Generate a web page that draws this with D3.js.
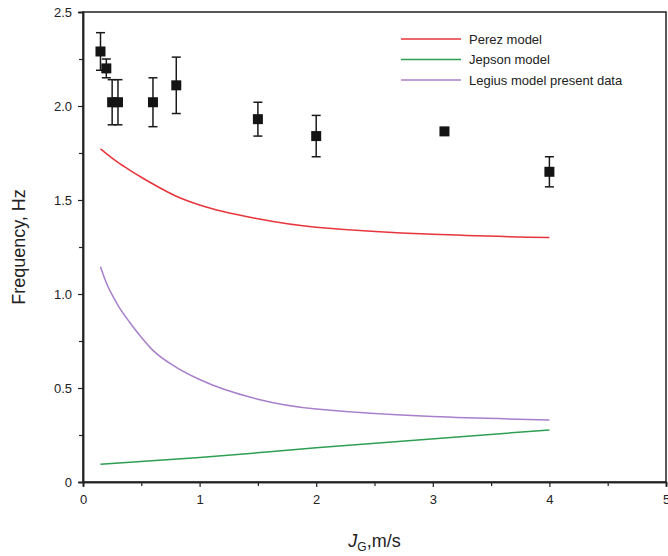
<!DOCTYPE html>
<html>
<head>
<meta charset="utf-8">
<script src="https://cdn.jsdelivr.net/npm/d3@7"></script>
<style>
  body { margin: 0; background: #fff; }
  svg { font-family: "Liberation Sans", Arial, sans-serif; }
</style>
</head>
<body>
<div id="chart"></div>
<script>
// measured points with error bars
const expX = [0.15, 0.2, 0.25, 0.3, 0.6, 0.8, 1.5, 2.0, 3.1, 4.0];
const expY = [2.29, 2.20, 2.02, 2.02, 2.02, 2.11, 1.93, 1.84, 1.865, 1.65];
const expLo = [2.19, 2.15, 1.90, 1.90, 1.89, 1.96, 1.84, 1.73, null, 1.57];
const expHi = [2.39, 2.25, 2.14, 2.14, 2.15, 2.26, 2.02, 1.95, null, 1.73];

// model curves
const modelX = [0.15, 0.2, 0.25, 0.3, 0.4, 0.5, 0.6, 0.8, 1.0, 1.5, 2.0, 4.0];
const perez = [1.772, 1.747, 1.723, 1.70, 1.659, 1.621, 1.585, 1.52, 1.473, 1.40, 1.355, 1.30];
const legius = [1.145, 1.06, 0.995, 0.94, 0.85, 0.77, 0.70, 0.61, 0.545, 0.44, 0.388, 0.33];
const jepsonX = [0.15, 1.0, 2.0, 4.0];
const jepson = [0.095, 0.13, 0.182, 0.277];

const legendNames = ["Perez model", "Jepson model", "Legius model present data"];
const legendColors = ["#e8343c", "#2e9e52", "#a87fcc"];

const xTicks = [0, 1, 2, 3, 4, 5];
const yTicks = [0, 0.5, 1.0, 1.5, 2.0, 2.5];

const W = 668, H = 556;
const margin = { left: 83, right: 1, top: 12, bottom: 74 };

const svg = d3.select("#chart").append("svg")
    .attr("width", W)
    .attr("height", H);

const x = d3.scaleLinear().domain([0, 5]).range([margin.left, W - margin.right - 1]);
const y = d3.scaleLinear().domain([0, 2.5]).range([H - margin.bottom, margin.top]);

// frame: top and right
svg.append("rect")
    .attr("x", x(0)).attr("y", y(2.5))
    .attr("width", x(5) - x(0)).attr("height", y(0) - y(2.5))
    .attr("fill", "none").attr("stroke", "#222").attr("stroke-width", 1.5);

// minor ticks
const xMinor = svg.append("g").attr("transform", `translate(0,${y(0)})`)
    .call(d3.axisBottom(x).tickValues([0.5, 1.5, 2.5, 3.5, 4.5]).tickSize(4).tickFormat(""));
const yMinor = svg.append("g").attr("transform", `translate(${x(0)},0)`)
    .call(d3.axisLeft(y).tickValues([0.25, 0.75, 1.25, 1.75, 2.25]).tickSize(4).tickFormat(""));

const xAxis = svg.append("g").attr("transform", `translate(0,${y(0)})`)
    .call(d3.axisBottom(x).tickValues(xTicks).tickSize(5).tickPadding(8).tickFormat(d3.format("d")));
const yAxis = svg.append("g").attr("transform", `translate(${x(0)},0)`)
    .call(d3.axisLeft(y).tickValues(yTicks).tickSize(5).tickPadding(6)
        .tickFormat(d => d === 0 ? "0" : d3.format(".1f")(d)));

[xMinor, yMinor, xAxis, yAxis].forEach(g => {
    g.selectAll("path").attr("stroke", "#222").attr("stroke-width", 1.5);
    g.selectAll("line").attr("stroke", "#222").attr("stroke-width", 1.2);
    g.selectAll("text").attr("font-size", 13).attr("fill", "#222")
        .attr("font-family", "Liberation Sans, Arial, sans-serif");
});

// model lines
const line = d3.line().x(d => x(d[0])).y(d => y(d[1])).curve(d3.curveMonotoneX);
const series = [
    d3.zip(modelX, perez),
    d3.zip(jepsonX, jepson),
    d3.zip(modelX, legius)
];
series.forEach((s, i) => {
    svg.append("path")
        .datum(s)
        .attr("d", line)
        .attr("fill", "none")
        .attr("stroke", legendColors[i])
        .attr("stroke-width", 1.5);
});

// error bars
const pts = expX.map((v, i) => ({ x: v, y: expY[i], lo: expLo[i], hi: expHi[i] }));
const eb = svg.append("g").attr("stroke", "#1a1a1a").attr("stroke-width", 1.5);
pts.filter(d => d.lo !== null).forEach(d => {
    eb.append("line").attr("x1", x(d.x)).attr("x2", x(d.x)).attr("y1", y(d.lo)).attr("y2", y(d.hi));
    [d.lo, d.hi].forEach(v => {
        eb.append("line").attr("x1", x(d.x) - 4.5).attr("x2", x(d.x) + 4.5).attr("y1", y(v)).attr("y2", y(v));
    });
});

// square markers
svg.append("g").selectAll("rect")
    .data(pts)
    .enter()
    .append("rect")
    .attr("x", d => x(d.x) - 5)
    .attr("y", d => y(d.y) - 5)
    .attr("width", 10)
    .attr("height", 10)
    .attr("fill", "#141414");

// legend
const legend = svg.append("g").attr("transform", "translate(401,39)");
legendNames.forEach((name, i) => {
    const row = legend.append("g").attr("transform", `translate(0,${i * 20.5})`);
    row.append("line").attr("x1", 0).attr("x2", 60).attr("y1", 0).attr("y2", 0)
        .attr("stroke", legendColors[i]).attr("stroke-width", 1.5);
    row.append("text").attr("x", 68).attr("y", 0).attr("dy", "0.35em")
        .attr("font-size", 13).attr("fill", "#222").text(name);
});

// axis titles
svg.append("text")
    .attr("transform", `translate(25,${(y(0) + y(2.5)) / 2}) rotate(-90)`)
    .attr("text-anchor", "middle")
    .attr("font-size", 18)
    .attr("fill", "#222")
    .text("Frequency, Hz");

const xt = svg.append("text")
    .attr("x", (x(0) + x(5)) / 2)
    .attr("y", 547)
    .attr("text-anchor", "middle")
    .attr("font-size", 18)
    .attr("fill", "#222");
xt.append("tspan").attr("font-style", "italic").text("J");
xt.append("tspan").attr("font-size", 12).attr("dy", 4).text("G");
xt.append("tspan").attr("dy", -4).text(",m/s");
</script>
</body>
</html>
